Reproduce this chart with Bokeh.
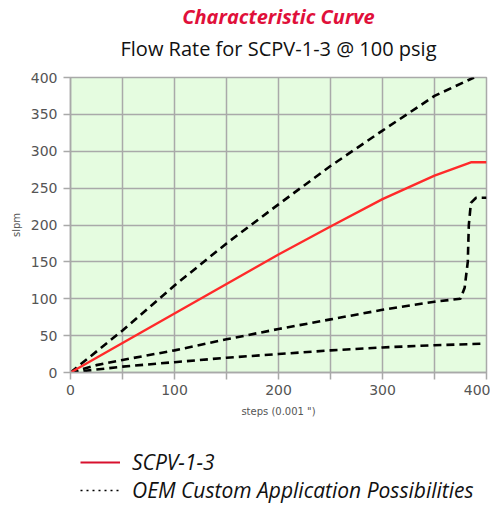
from bokeh.plotting import figure
from bokeh.layouts import column
from bokeh.models import Legend, LegendItem, FixedTicker, Title
from bokeh.embed import file_html
from bokeh.resources import INLINE

# ---- data ----
scpv_x = [0, 50, 100, 150, 200, 250, 300, 350, 385, 400]
scpv_y = [0, 40, 80, 120, 160, 198, 235, 267, 285, 285]

oem_a_x = [0, 50, 100, 150, 200, 250, 300, 350, 388]
oem_a_y = [0, 57, 118, 175, 228, 280, 328, 375, 400]

oem_b_x = [0, 25, 50, 100, 150, 200, 250, 300, 350, 375, 379, 382, 383, 385, 390, 400]
oem_b_y = [0, 10, 17, 30, 45, 59, 72, 85, 96, 100, 115, 150, 200, 230, 237, 237]

oem_c_x = [0, 50, 100, 150, 200, 250, 300, 350, 395]
oem_c_y = [0, 8, 14, 20, 25, 30, 34, 37, 39]

x_major = [0, 100, 200, 300, 400]
x_minor = [50, 150, 250, 350]
y_ticks = [0, 50, 100, 150, 200, 250, 300, 350, 400]

title_main = "Characteristic Curve"
title_sub = "Flow Rate for SCPV-1-3 @ 100 psig"
x_label = "steps (0.001 \")"
y_label = "slpm"
legend_labels = ["SCPV-1-3", "OEM Custom Application Possibilities"]

FONT = "Open Sans"
TICK_FONT = "DejaVu Sans"
GRID = "#a9a9a9"

p = figure(frame_width=416, frame_height=295,
           min_border_left=70, min_border_right=4, min_border_top=75, min_border_bottom=50,
           x_range=(0, 400), y_range=(0, 400),
           output_backend="svg", toolbar_location=None, title=None)

p.background_fill_color = "#e5fce0"
p.border_fill_color = "white"
p.outline_line_color = GRID
p.outline_line_width = 1.5

# grids
p.xaxis.ticker = FixedTicker(ticks=x_major, minor_ticks=x_minor)
p.yaxis.ticker = FixedTicker(ticks=y_ticks)
for g in (p.xgrid, p.ygrid):
    g.grid_line_color = GRID
    g.grid_line_width = 1.5
p.xgrid.minor_grid_line_color = GRID
p.xgrid.minor_grid_line_width = 1.5

for ax in (p.xaxis, p.yaxis):
    ax.axis_line_color = GRID
    ax.axis_line_width = 1.5
    ax.major_tick_line_color = GRID
    ax.major_tick_line_width = 1.5
    ax.major_tick_in = 0
    ax.major_tick_out = 7
    ax.minor_tick_line_color = GRID
    ax.minor_tick_line_width = 1.5
    ax.minor_tick_in = 0
    ax.minor_tick_out = 7
    ax.major_label_text_font = TICK_FONT
    ax.major_label_text_font_size = "14px"
    ax.major_label_text_color = "#555555"
    ax.axis_label_text_font = TICK_FONT
    ax.axis_label_text_font_size = "10px"
    ax.axis_label_text_font_style = "normal"
    ax.axis_label_text_color = "#555555"
p.yaxis.minor_tick_line_color = None
p.xaxis.axis_label = x_label
p.yaxis.axis_label = y_label
p.xaxis.axis_label_standoff = 8
p.yaxis.axis_label_standoff = 6
p.xaxis.major_label_standoff = 5
p.yaxis.major_label_standoff = 6

# data lines
dash = "8 5"
p.line(oem_c_x, oem_c_y, line_color="black", line_width=2.6, line_dash=dash)
p.line(oem_b_x, oem_b_y, line_color="black", line_width=2.6, line_dash=dash)
p.line(oem_a_x, oem_a_y, line_color="black", line_width=2.6, line_dash=dash)
p.line(scpv_x, scpv_y, line_color="#ff2a2a", line_width=2.4)

# titles (spacer, subtitle, main title stacked upward from the frame)
t_space = Title(text=" ", text_font=FONT, text_font_size="8px", standoff=0)
t_sub = Title(text=title_sub, align="center", text_font=FONT, text_font_size="20px",
              text_font_style="normal", text_color="#111111", standoff=6)
t_main = Title(text=title_main, align="center", text_font=FONT, text_font_size="20px",
               text_font_style="bold italic", text_color="#e0103a", standoff=0)
p.add_layout(t_space, "above")
p.add_layout(t_sub, "above")
p.add_layout(t_main, "above")

# legend in its own strip below the chart
lg = figure(width=490, height=85, x_range=(0, 1), y_range=(0, 1),
            x_axis_location=None, y_axis_location=None,
            min_border=0, output_backend="svg", toolbar_location=None, title=None)
lg.grid.visible = False
lg.outline_line_color = None
lg.background_fill_color = "white"
lg.border_fill_color = "white"
# proxy renderers lie outside the visible range; only their legend glyphs show
r_leg_red = lg.line([-5, -4], [-5, -5], line_color="#d8102e", line_width=1.8)
r_leg_dot = lg.line([-5, -4], [-6, -6], line_color="black", line_width=1.6, line_dash="2 4")

legend = Legend(items=[LegendItem(label=legend_labels[0], renderers=[r_leg_red]),
                       LegendItem(label=legend_labels[1], renderers=[r_leg_dot])],
                orientation="vertical", location=(10, 3))
legend.label_text_font = FONT
legend.label_text_font_size = "21px"
legend.label_text_font_style = "italic"
legend.label_text_color = "#111111"
legend.glyph_width = 40
legend.glyph_height = 18
legend.label_height = 18
legend.label_standoff = 12
legend.spacing = 0
legend.padding = 0
legend.margin = 0
legend.border_line_color = None
legend.background_fill_color = None
legend.background_fill_alpha = 0
lg.add_layout(legend, "center")

layout = column(p, lg, spacing=0)
open("out.html", "w").write(file_html(layout, INLINE))
